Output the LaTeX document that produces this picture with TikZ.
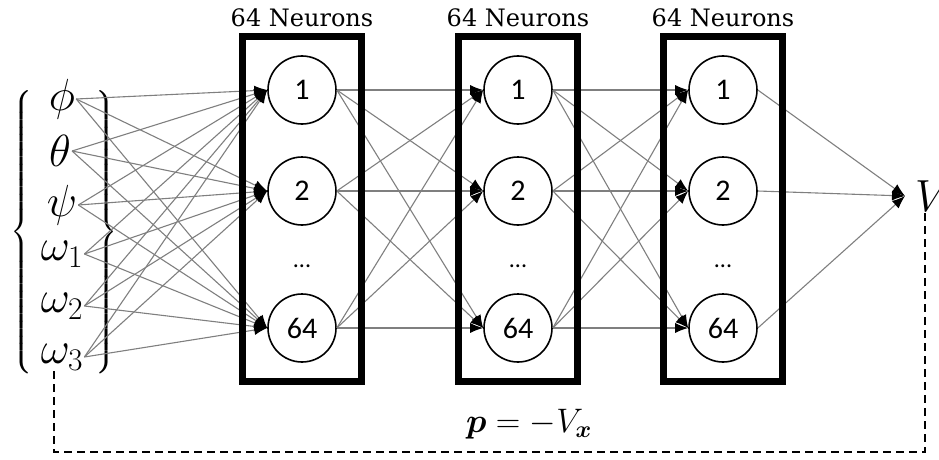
\RequirePackage{fix-cm}
\documentclass[tikz,border=0pt]{standalone}
\usepackage{amsmath}
\usepackage{fontspec}
\newfontfamily\numfont{Carlito}
\newfontfamily\labelfont{DejaVu Serif}
\usetikzlibrary{arrows.meta,positioning,fit}
\definecolor{wire}{HTML}{7F7F7F}
\tikzset{
  neuron/.style={circle,draw,line width=1.6pt,minimum size=68pt,inner sep=0pt,font=\numfont\fontsize{30}{30}\selectfont},
  layer/.style={draw,line width=7pt,inner xsep=24.5pt,inner ysep=19pt},
  count/.style={font=\labelfont\fontsize{24}{24}\selectfont},
  var/.style={font=\fontsize{45}{45}\selectfont,inner sep=1pt},
  bracket/.style={font=\fontsize{42}{42}\selectfont,inner sep=0pt},
  gap/.style={font=\numfont\fontsize{24}{24}\selectfont},
  link/.style={draw=wire,line width=1.1pt,-{Latex[length=13pt,width=10pt,color=black]}},
  feedback/.style={draw,line width=1.5pt,dash pattern=on 8pt off 5pt}
}

\begin{document}
\begin{tikzpicture}[x=1pt,y=-1pt]
\useasboundingbox (0,0) rectangle (939,460);

% inputs
\node[var] (phi) at (62,99) {$\phi$};
\node[var] (theta) at (60,151) {$\theta$};
\node[var] (psi) at (62,205) {$\psi$};
\node[var] (w1) at (62,254) {$\omega_1$};
\node[var] (w2) at (62,306) {$\omega_2$};
\node[var] (w3) at (62,357) {$\omega_3$};
\node[bracket] (lbrace) at (22,232) {$\left\{\vcenter{\hbox{\rule{0pt}{286pt}}}\right.$};
\node[bracket] (rbrace) at (106,232) {$\left.\vcenter{\hbox{\rule{0pt}{286pt}}}\right\}$};

% hidden layers
\node[neuron] (a1) at (302,90) {1};
\node[neuron] (a2) at (302,191) {2};
\node[gap] (adots) at (302,266) {...};
\node[neuron] (a64) at (302,328) {64};

\node[neuron] (b1) at (518,90) {1};
\node[neuron] (b2) at (518,191) {2};
\node[gap] (bdots) at (518,266) {...};
\node[neuron] (b64) at (518,328) {64};

\node[neuron] (c1) at (723,90) {1};
\node[neuron] (c2) at (723,191) {2};
\node[gap] (cdots) at (723,266) {...};
\node[neuron] (c64) at (723,328) {64};

\node[var,anchor=west,inner xsep=10pt] (V) at (905,196) {$V$};

% input -> layer 1
\draw[link] (phi.east) -- (a1.west);
\draw[link] (phi.east) -- (a2.west);
\draw[link] (phi.east) -- (a64.west);
\draw[link] (theta.east) -- (a1.west);
\draw[link] (theta.east) -- (a2.west);
\draw[link] (theta.east) -- (a64.west);
\draw[link] (psi.east) -- (a1.west);
\draw[link] (psi.east) -- (a2.west);
\draw[link] (psi.east) -- (a64.west);
\draw[link] (w1.east) -- (a1.west);
\draw[link] (w1.east) -- (a2.west);
\draw[link] (w1.east) -- (a64.west);
\draw[link] (w2.east) -- (a1.west);
\draw[link] (w2.east) -- (a2.west);
\draw[link] (w2.east) -- (a64.west);
\draw[link] (w3.east) -- (a1.west);
\draw[link] (w3.east) -- (a2.west);
\draw[link] (w3.east) -- (a64.west);

% layer 1 -> layer 2
\draw[link] (a1.east) -- (b1.west);
\draw[link] (a1.east) -- (b2.west);
\draw[link] (a1.east) -- (b64.west);
\draw[link] (a2.east) -- (b1.west);
\draw[link] (a2.east) -- (b2.west);
\draw[link] (a2.east) -- (b64.west);
\draw[link] (a64.east) -- (b1.west);
\draw[link] (a64.east) -- (b2.west);
\draw[link] (a64.east) -- (b64.west);

% layer 2 -> layer 3
\draw[link] (b1.east) -- (c1.west);
\draw[link] (b1.east) -- (c2.west);
\draw[link] (b1.east) -- (c64.west);
\draw[link] (b2.east) -- (c1.west);
\draw[link] (b2.east) -- (c2.west);
\draw[link] (b2.east) -- (c64.west);
\draw[link] (b64.east) -- (c1.west);
\draw[link] (b64.east) -- (c2.west);
\draw[link] (b64.east) -- (c64.west);

% layer 3 -> output
\draw[link] (c1.east) -- (V.west);
\draw[link] (c2.east) -- (V.west);
\draw[link] (c64.east) -- (V.west);

\node[layer,fit=(a1)(a64)] (layerA) {};
\node[layer,fit=(b1)(b64)] (layerB) {};
\node[layer,fit=(c1)(c64)] (layerC) {};
\node[count,above=2pt of layerA] (countA) {64 Neurons};
\node[count,above=2pt of layerB] (countB) {64 Neurons};
\node[count,above=2pt of layerC] (countC) {64 Neurons};

% gradient feedback
\coordinate (fb) at (925,452);
\draw[feedback] ([xshift=-8pt]w3.south) |- (fb) -- (fb |- V.south);
\node[font=\fontsize{34}{34}\selectfont] (grad) at (529,424) {$\boldsymbol{p} = -V_{\boldsymbol{x}}$};
\end{tikzpicture}
\end{document}
